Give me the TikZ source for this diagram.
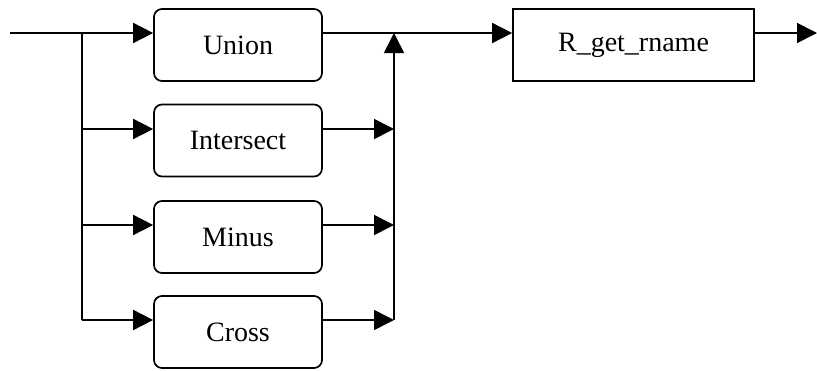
\documentclass[tikz,border=0pt]{standalone}
\usepackage{fontspec}
\setmainfont{Liberation Serif}
\usetikzlibrary{arrows.meta}
\begin{document}
\begin{tikzpicture}[x=1pt,y=-1pt,
  conn/.style={line width=1.7pt},
  arr/.style={conn,-{Triangle[length=20pt,width=20pt]}},
  opbox/.style={draw,line width=1.7pt,rounded corners=8pt,minimum width=168pt,minimum height=72pt,inner sep=0pt,font=\fontsize{28}{32}\selectfont},
  plainbox/.style={draw,line width=1.7pt,minimum width=241pt,minimum height=72pt,inner sep=0pt,font=\fontsize{28}{32}\selectfont}]
\useasboundingbox (0,0) rectangle (817,370);
\coordinate (start) at (10,33);
\coordinate (split) at (82,33);
\coordinate (merge) at (394,33);
\coordinate (end) at (817,33);
\node[opbox] (union) at (238,45) {Union};
\node[opbox] (inter) at (238,140.5) {Intersect};
\node[opbox] (minus) at (238,237) {Minus};
\node[opbox] (cross) at (238,332) {Cross};
\node[plainbox] (rget) at (633.5,45) {R\_get\_rname};
\coordinate (splitI) at (82,129);
\coordinate (splitM) at (82,225);
\coordinate (splitC) at (82,320);
\coordinate (mergeI) at (394,129);
\coordinate (mergeM) at (394,225);
\coordinate (mergeC) at (394,320);
% entry line
\draw[arr] (start) -- (split -| union.west);
% left vertical
\draw[conn] (split) -- (splitC);
\draw[arr] (splitI) -- (splitI -| inter.west);
\draw[arr] (splitM) -- (splitM -| minus.west);
\draw[arr] (splitC) -- (splitC -| cross.west);
% right side
\draw[arr] (mergeI -| inter.east) -- (mergeI);
\draw[arr] (mergeM -| minus.east) -- (mergeM);
\draw[arr] (mergeC -| cross.east) -- (mergeC);
\draw[arr] (mergeC) -- (merge);
\draw[arr] (merge -| union.east) -- (merge -| rget.west);
\draw[arr] (merge -| rget.east) -- (end);
\end{tikzpicture}
\end{document}
